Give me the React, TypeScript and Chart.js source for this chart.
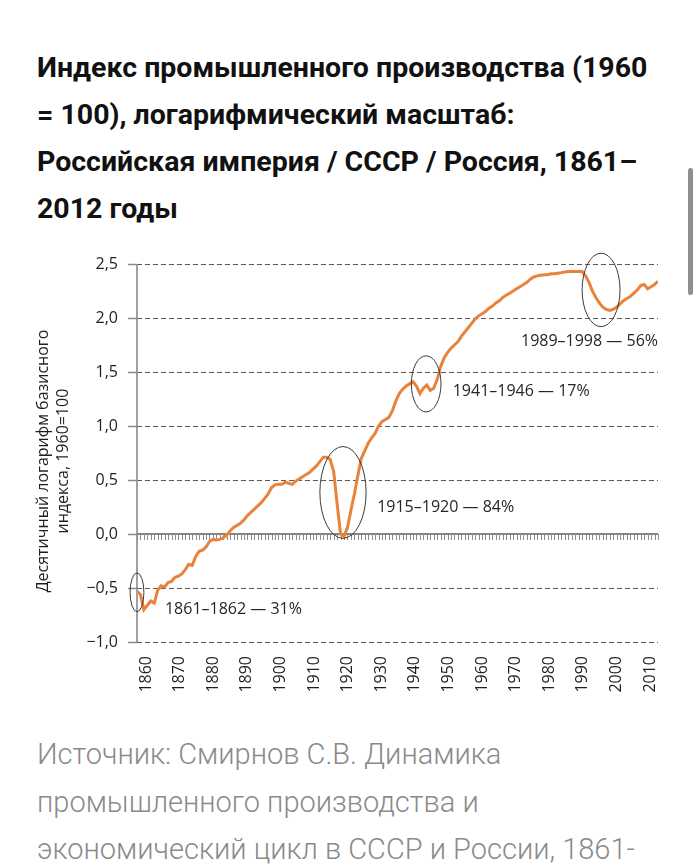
import React, { useEffect, useRef } from 'react';
import { Chart, registerables } from 'chart.js';

Chart.register(...registerables);

// ---------- DATA ----------
const START_YEAR = 1861;

// decimal logarithm of the base industrial production index (1960 = 100), per year
const logIndexValues: number[] = [
  // 1861-1870
  -0.53, -0.56, -0.70, -0.66, -0.62, -0.64, -0.52, -0.48, -0.49, -0.45,
  // 1871-1880
  -0.44, -0.40, -0.39, -0.37, -0.33, -0.28, -0.29, -0.21, -0.16, -0.15,
  // 1881-1890
  -0.12, -0.07, -0.05, -0.055, -0.05, -0.035, -0.01, 0.03, 0.06, 0.08,
  // 1891-1900
  0.10, 0.13, 0.17, 0.20, 0.23, 0.26, 0.29, 0.33, 0.37, 0.43,
  // 1901-1910
  0.455, 0.46, 0.46, 0.48, 0.47, 0.46, 0.49, 0.51, 0.53, 0.55,
  // 1911-1920
  0.57, 0.60, 0.63, 0.67, 0.71, 0.71, 0.69, 0.58, 0.28, 0.0,
  // 1921-1930
  -0.02, 0.06, 0.22, 0.37, 0.54, 0.70, 0.77, 0.84, 0.89, 0.93,
  // 1931-1940
  1.00, 1.04, 1.06, 1.08, 1.14, 1.23, 1.30, 1.34, 1.37, 1.39,
  // 1941-1950
  1.41, 1.37, 1.30, 1.35, 1.38, 1.33, 1.35, 1.43, 1.55, 1.63,
  // 1951-1960
  1.68, 1.72, 1.75, 1.78, 1.83, 1.87, 1.91, 1.95, 1.99, 2.02,
  // 1961-1970
  2.04, 2.06, 2.09, 2.11, 2.14, 2.16, 2.19, 2.21, 2.23, 2.25,
  // 1971-1980
  2.27, 2.29, 2.31, 2.33, 2.36, 2.38, 2.39, 2.395, 2.40, 2.40,
  // 1981-1990
  2.41, 2.41, 2.415, 2.42, 2.425, 2.43, 2.43, 2.43, 2.43, 2.43,
  // 1991-2000
  2.39, 2.33, 2.25, 2.19, 2.14, 2.10, 2.08, 2.07, 2.08, 2.10,
  // 2001-2010
  2.13, 2.16, 2.18, 2.20, 2.23, 2.26, 2.30, 2.31, 2.27, 2.29,
  // 2011-2012
  2.31, 2.34,
];

const years: number[] = logIndexValues.map((_, i) => START_YEAR + i);

const yTickValues: number[] = [-1, -0.5, 0, 0.5, 1, 1.5, 2, 2.5];
const xTickYears: number[] = [
  1860, 1870, 1880, 1890, 1900, 1910, 1920, 1930,
  1940, 1950, 1960, 1970, 1980, 1990, 2000, 2010,
];

// crisis annotations (data coordinates)
const crisisLabels: string[] = [
  '1861–1862 — 31%',
  '1915–1920 — 84%',
  '1941–1946 — 17%',
  '1989–1998 — 56%',
];
const crisisCenterYears: number[] = [1861, 1920.7, 1944.8, 1995.5];
const crisisCenterValues: number[] = [-0.54, 0.385, 1.39, 2.26];
const crisisHalfSpanYears: number[] = [2.0, 6.7, 4.3, 5.5];
const crisisHalfSpanValues: number[] = [0.18, 0.425, 0.26, 0.34];
const crisisLabelYears: number[] = [1869.1, 1930.6, 1952.5, 2012];
const crisisLabelValues: number[] = [-0.70, 0.245, 1.32, 1.78];
const crisisLabelAnchor: string[] = ['left', 'left', 'left', 'right'];

const TITLE_LINES = [
  'Индекс промышленного производства (1960',
  '= 100), логарифмический масштаб:',
  'Российская империя / СССР / Россия, 1861–',
  '2012 годы',
];
const SOURCE_LINES = [
  'Источник: Смирнов С.В. Динамика',
  'промышленного производства и',
  'экономический цикл в СССР и России, 1861-',
];
const Y_TITLE = ['Десятичный логарифм базисного', 'индекса, 1960=100'];

const AXIS_FONT = "'Open Sans', 'DejaVu Sans', sans-serif";

const fmtY = (v: number) => v.toFixed(1).replace('.', ',').replace('-', '−');

const overlayPlugin = {
  id: 'overlayPlugin',
  beforeDatasetsDraw(chart: any) {
    const { ctx, chartArea, scales } = chart;
    const xs = scales.x;
    const ys = scales.y;
    const y0 = ys.getPixelForValue(0);
    ctx.save();
    ctx.setLineDash([]);
    // vertical axis line
    ctx.strokeStyle = '#8a8a8a';
    ctx.lineWidth = 1.6;
    ctx.beginPath();
    ctx.moveTo(chartArea.left, chartArea.top);
    ctx.lineTo(chartArea.left, chartArea.bottom);
    ctx.stroke();
    // solid zero line
    ctx.strokeStyle = '#858585';
    ctx.lineWidth = 2;
    ctx.beginPath();
    ctx.moveTo(chartArea.left, y0);
    ctx.lineTo(chartArea.right, y0);
    ctx.stroke();
    // yearly hatch marks under the zero line
    ctx.strokeStyle = '#8a8a8a';
    ctx.lineWidth = 1;
    ctx.beginPath();
    for (const yr of years) {
      const px = Math.round(xs.getPixelForValue(yr)) + 0.5;
      ctx.moveTo(px, y0);
      ctx.lineTo(px, y0 + 6);
    }
    ctx.stroke();
    ctx.restore();
  },
  afterDatasetsDraw(chart: any) {
    const { ctx, scales, chartArea } = chart;
    const xs = scales.x;
    const ys = scales.y;
    ctx.save();
    ctx.strokeStyle = '#3a3a3a';
    ctx.lineWidth = 1;
    ctx.setLineDash([]);
    for (let i = 0; i < crisisLabels.length; i++) {
      const cx = xs.getPixelForValue(crisisCenterYears[i]);
      const cy = ys.getPixelForValue(crisisCenterValues[i]);
      const rx = Math.abs(xs.getPixelForValue(crisisCenterYears[i] + crisisHalfSpanYears[i]) - cx);
      const ry = Math.abs(ys.getPixelForValue(crisisCenterValues[i] + crisisHalfSpanValues[i]) - cy);
      ctx.beginPath();
      ctx.ellipse(cx, cy, rx, ry, 0, 0, Math.PI * 2);
      ctx.stroke();
    }
    ctx.fillStyle = '#262626';
    ctx.font = `16px ${AXIS_FONT}`;
    ctx.textBaseline = 'middle';
    for (let i = 0; i < crisisLabels.length; i++) {
      ctx.textAlign = crisisLabelAnchor[i] as CanvasTextAlign;
      ctx.fillText(
        crisisLabels[i],
        xs.getPixelForValue(crisisLabelYears[i]),
        ys.getPixelForValue(crisisLabelValues[i])
      );
    }
    // rotated y-axis title (two lines)
    const midY = (chartArea.top + chartArea.bottom) / 2 + 8;
    ctx.fillStyle = '#1e1e1e';
    ctx.textAlign = 'center';
    ctx.textBaseline = 'middle';
    Y_TITLE.forEach((line, i) => {
      ctx.save();
      ctx.translate(chartArea.left - 94 + i * 20, midY);
      ctx.rotate(-Math.PI / 2);
      ctx.fillText(line, 0, 0);
      ctx.restore();
    });
    ctx.restore();
  },
};

function IndustryChart() {
  const canvasRef = useRef<HTMLCanvasElement | null>(null);

  useEffect(() => {
    if (!canvasRef.current) return;
    const chart = new Chart(canvasRef.current, {
      type: 'line',
      data: {
        datasets: [
          {
            data: years.map((yr, i) => ({ x: yr, y: logIndexValues[i] })),
            borderColor: '#E9823A',
            borderWidth: 3,
            pointRadius: 0,
            tension: 0,
            fill: false,
            xAxisID: 'x',
            yAxisID: 'y',
          },
        ],
      },
      options: {
        animation: false,
        responsive: false,
        events: [],
        layout: { padding: { top: 34, right: 42, left: 0, bottom: 0 } },
        plugins: { legend: { display: false }, tooltip: { enabled: false } },
        scales: {
          x: {
            type: 'linear',
            display: false,
            min: START_YEAR,
            max: years[years.length - 1],
          },
          xl: {
            type: 'linear',
            position: 'bottom',
            min: 1857.3,
            max: 2012.4,
            grid: { display: false, drawTicks: false },
            border: { display: false },
            afterBuildTicks: (scale: any) => {
              scale.ticks = xTickYears.map((v) => ({ value: v }));
            },
            afterFit: (scale: any) => {
              scale.height = 68;
            },
            ticks: {
              autoSkip: false,
              maxRotation: 90,
              minRotation: 90,
              padding: 14,
              color: '#1e1e1e',
              font: { family: AXIS_FONT, size: 16 },
              callback: (v: any) => String(v),
            },
          },
          y: {
            type: 'linear',
            min: -1,
            max: 2.5,
            afterBuildTicks: (scale: any) => {
              scale.ticks = yTickValues.map((v) => ({ value: v }));
            },
            afterFit: (scale: any) => {
              scale.width = 137;
            },
            grid: {
              color: '#5a5a5a',
              lineWidth: 1,
              tickLength: 9,
              tickColor: '#8a8a8a',
              tickWidth: 1.5,
              tickBorderDash: [],
            },
            border: {
              display: false,
              dash: [5, 3],
            },
            ticks: {
              padding: 10,
              color: '#1e1e1e',
              font: { family: AXIS_FONT, size: 16 },
              callback: (v: any) => fmtY(Number(v)),
            },
          },
        },
      },
      plugins: [overlayPlugin],
    } as any);
    return () => chart.destroy();
  }, []);

  return (
    <canvas
      ref={canvasRef}
      width={700}
      height={480}
      style={{ position: 'absolute', left: 0, top: 230, width: 700, height: 480 }}
    />
  );
}

export default function App() {
  return (
    <div
      style={{
        position: 'absolute',
        left: 0,
        top: 0,
        width: 700,
        height: 866,
        overflow: 'hidden',
        background: '#ffffff',
      }}
    >
      <div
        style={{
          position: 'absolute',
          left: 37,
          top: 44,
          fontFamily: "Roboto, 'Noto Sans', sans-serif",
          fontWeight: 700,
          fontSize: 28.5,
          lineHeight: '47px',
          color: '#111',
          whiteSpace: 'nowrap',
        }}
      >
        {TITLE_LINES.map((l, i) => (
          <div key={i}>{l}</div>
        ))}
      </div>
      <div
        style={{
          position: 'absolute',
          left: 688,
          top: 168,
          width: 5,
          height: 127,
          borderRadius: 3,
          background: '#8e8e8e',
        }}
      />
      <IndustryChart />
      <div
        style={{
          position: 'absolute',
          left: 37,
          top: 731,
          fontFamily: "Roboto, 'Noto Sans', sans-serif",
          fontWeight: 300,
          fontSize: 29,
          lineHeight: '47.5px',
          color: '#8a8a8a',
          whiteSpace: 'nowrap',
        }}
      >
        {SOURCE_LINES.map((l, i) => (
          <div key={i}>{l}</div>
        ))}
      </div>
    </div>
  );
}
